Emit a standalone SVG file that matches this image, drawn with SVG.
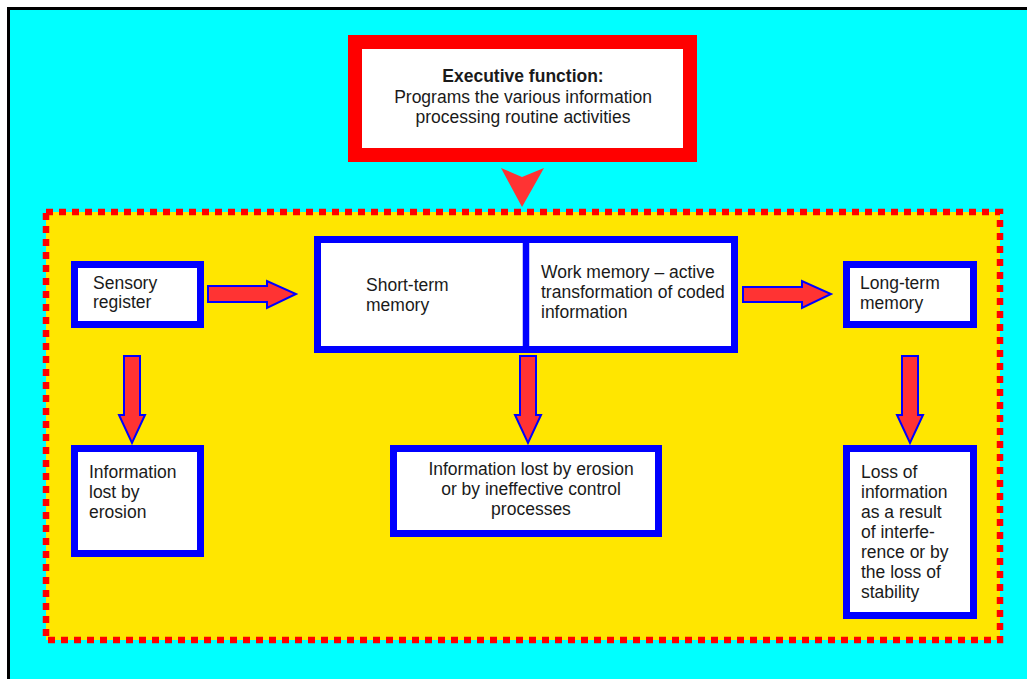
<svg xmlns="http://www.w3.org/2000/svg" width="1027" height="679" viewBox="0 0 1027 679">
  <style>
    text { font-family: "Liberation Sans", Arial, sans-serif; font-size: 17.5px; fill: #1a1a1a; }
    .bold { font-weight: bold; }
    .box { fill: #ffffff; stroke: #0000ff; stroke-width: 7; }
    .arrow { fill: #ff3333; stroke: #0000ff; stroke-width: 2; stroke-linejoin: miter; }
  </style>

  <!-- page background -->
  <rect x="0" y="0" width="1027" height="679" fill="#ffffff"/>
  <rect x="8.5" y="8.5" width="1030" height="690" fill="#00ffff" stroke="#000000" stroke-width="3"/>

  <!-- processing area -->
  <rect x="46" y="212" width="954" height="428" fill="#ffe600" stroke="#ff0000" stroke-width="6.5" stroke-dasharray="7 6"/>

  <g id="executive">
    <rect x="355" y="42" width="335" height="113" fill="#ffffff" stroke="#ff0000" stroke-width="14"/>
    <text x="523" y="82" text-anchor="middle" class="bold">Executive function:</text>
    <text x="523" y="103" text-anchor="middle">Programs the various information</text>
    <text x="523" y="123" text-anchor="middle">processing routine activities</text>
  </g>

  <g id="sensory">
    <rect class="box" x="74.5" y="264.5" width="126" height="60"/>
    <text x="93" y="289">Sensory</text>
    <text x="93" y="308">register</text>
  </g>

  <g id="short-term">
    <rect class="box" x="317.5" y="239.5" width="417" height="110"/>
    <line x1="526" y1="239.5" x2="526" y2="349.5" stroke="#0000ff" stroke-width="6.5"/>
    <text x="366" y="291">Short-term</text>
    <text x="366" y="311">memory</text>
    <text x="541" y="278">Work memory – active</text>
    <text x="541" y="298">transformation of coded</text>
    <text x="541" y="318">information</text>
  </g>

  <g id="long-term">
    <rect class="box" x="846.5" y="264.5" width="127" height="60"/>
    <text x="860" y="289">Long-term</text>
    <text x="860" y="309">memory</text>
  </g>

  <g id="lost-sensory">
    <rect class="box" x="74.5" y="448.5" width="126" height="105"/>
    <text x="89" y="478">Information</text>
    <text x="89" y="498">lost by</text>
    <text x="89" y="518">erosion</text>
  </g>

  <g id="lost-short-term">
    <rect class="box" x="393.5" y="448.5" width="265" height="85"/>
    <text x="531" y="475" text-anchor="middle">Information lost by erosion</text>
    <text x="531" y="495" text-anchor="middle">or by ineffective control</text>
    <text x="531" y="515" text-anchor="middle">processes</text>
  </g>

  <g id="lost-long-term">
    <rect class="box" x="846.5" y="448.5" width="127" height="167"/>
    <text x="861" y="478">Loss of</text>
    <text x="861" y="498">information</text>
    <text x="861" y="518">as a result</text>
    <text x="861" y="538">of interfe-</text>
    <text x="861" y="558">rence or by</text>
    <text x="861" y="578">the loss of</text>
    <text x="861" y="598">stability</text>
  </g>

  <g id="connectors">
    <!-- control from executive function -->
    <polygon points="501,168 522,177 544,168 522,207" fill="#ff3333"/>
    <!-- forward flow -->
    <polygon class="arrow" points="208,286 267,286 267,281 296,294 267,308 267,302 208,302"/>
    <polygon class="arrow" points="743,287 802,287 802,281 831,294 802,308 802,302 743,302"/>
    <!-- losses -->
    <polygon class="arrow" points="124,356 140,356 140,415 145,415 132,443 119,415 124,415"/>
    <polygon class="arrow" points="520,356 536,356 536,415 541,415 528,443 515,415 520,415"/>
    <polygon class="arrow" points="902,356 918,356 918,415 923,415 910,443 897,415 902,415"/>
  </g>
</svg>
